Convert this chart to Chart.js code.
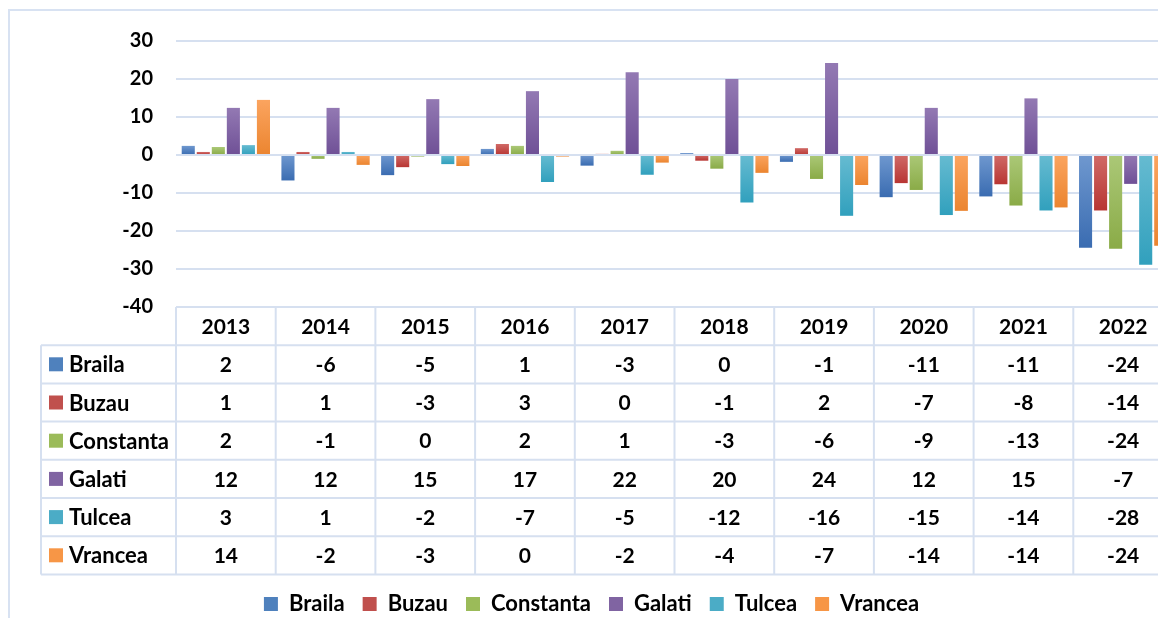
<!DOCTYPE html>
<html>
<head>
<meta charset="utf-8">
<script src="https://cdn.jsdelivr.net/npm/chart.js@4"></script>
<style>
    html, body { margin: 0; padding: 0; background: #fff; overflow: hidden; }
    body { width: 1158px; height: 618px; position: relative; }
    #frame {
        position: absolute; left: 8px; top: 9px;
        width: 1174px; height: 614px;
        border: 2px solid #d8e2f2;
    }
    #chartBox { position: relative; width: 1174px; height: 614px; }
</style>
</head>
<body>
<div id="frame">
    <div id="chartBox"><canvas id="myChart"></canvas></div>
</div>
<script>
// Categories
const years = ['2013', '2014', '2015', '2016', '2017', '2018', '2019', '2020', '2021', '2022'];
const seriesNames = ['Braila', 'Buzau', 'Constanta', 'Galati', 'Tulcea', 'Vrancea'];

// Bar heights
const braila = [2.4, -6.7, -5.3, 1.6, -2.8, 0.5, -1.8, -11.1, -10.9, -24.4];
const buzau = [0.8, 0.8, -3.2, 2.9, 0.3, -1.5, 1.8, -7.4, -7.7, -14.6];
const constanta = [2.1, -1.0, -0.4, 2.4, 1.1, -3.6, -6.3, -9.2, -13.3, -24.7];
const galati = [12.4, 12.4, 14.7, 16.8, 21.8, 20.0, 24.2, 12.4, 14.9, -7.6];
const tulcea = [2.6, 0.8, -2.4, -7.1, -5.2, -12.5, -16.0, -15.8, -14.6, -28.9];
const vrancea = [14.5, -2.6, -2.9, -0.4, -2.0, -4.7, -7.9, -14.7, -13.8, -23.9];

// Values printed in the data table
const brailaTable = ['2', '-6', '-5', '1', '-3', '0', '-1', '-11', '-11', '-24'];
const buzauTable = ['1', '1', '-3', '3', '0', '-1', '2', '-7', '-8', '-14'];
const constantaTable = ['2', '-1', '0', '2', '1', '-3', '-6', '-9', '-13', '-24'];
const galatiTable = ['12', '12', '15', '17', '22', '20', '24', '12', '15', '-7'];
const tulceaTable = ['3', '1', '-2', '-7', '-5', '-12', '-16', '-15', '-14', '-28'];
const vranceaTable = ['14', '-2', '-3', '0', '-2', '-4', '-7', '-14', '-14', '-24'];

// Y axis ticks
const yMin = -40;
const yMax = 30;
const yStep = 10;

const seriesValues = [braila, buzau, constanta, galati, tulcea, vrancea];
const tableValues = [brailaTable, buzauTable, constantaTable, galatiTable, tulceaTable, vranceaTable];

// Colours (base, gradient top, gradient bottom)
const baseColors = ['#4f81bd', '#c0504d', '#9bbb59', '#8064a2', '#4bacc6', '#f79646'];
const topColors = ['#6f98cf', '#d06a67', '#abc877', '#9379b3', '#66bbd1', '#fba45f'];
const bottomColors = ['#3a6cb1', '#b83633', '#8aab47', '#6f5096', '#31a0bd', '#eb8530'];
const lineColor = '#d6e0f0';
const fontFamily = 'Lato, "Open Sans", sans-serif';
const rowHeight = 38.2;

Chart.defaults.font.family = fontFamily;
Chart.defaults.color = '#000';

// vertical gradient for each bar, light at the top, dark at the bottom
function barFill(i) {
    return function (context) {
        const chart = context.chart;
        if (!chart.chartArea || context.type !== 'data')
            return baseColors[i];
        const y = chart.scales.y;
        const p0 = y.getPixelForValue(0);
        const p1 = y.getPixelForValue(context.raw);
        const top = Math.min(p0, p1);
        const bottom = Math.max(p0, p1);
        if (bottom - top < 1)
            return baseColors[i];
        const g = chart.ctx.createLinearGradient(0, top, 0, bottom);
        g.addColorStop(0, topColors[i]);
        g.addColorStop(1, bottomColors[i]);
        return g;
    };
}

// data table under the plot, columns follow the x scale
const dataTablePlugin = {
    id: 'dataTable',
    afterDraw(chart) {
        const ctx = chart.ctx;
        const x = chart.scales.x;
        const area = chart.chartArea;
        const colW = (area.right - area.left) / years.length;
        const top = area.bottom;
        const labelLeft = 31;
        const bottom = top + rowHeight * (seriesNames.length + 1);

        ctx.save();
        ctx.strokeStyle = lineColor;
        ctx.lineWidth = 2;
        ctx.beginPath();
        // header row top line
        ctx.moveTo(area.left, top);
        ctx.lineTo(area.right, top);
        // row lines
        for (let r = 1; r <= seriesNames.length + 1; r++) {
            ctx.moveTo(labelLeft, top + r * rowHeight);
            ctx.lineTo(area.right, top + r * rowHeight);
        }
        // column lines
        for (let c = 0; c <= years.length; c++) {
            const cx = area.left + c * colW;
            ctx.moveTo(cx, top);
            ctx.lineTo(cx, bottom);
        }
        ctx.moveTo(labelLeft, top + rowHeight);
        ctx.lineTo(labelLeft, bottom);
        ctx.stroke();

        ctx.fillStyle = '#000';
        ctx.textBaseline = 'middle';
        ctx.textAlign = 'center';
        ctx.font = 'bold 21px ' + fontFamily;
        years.forEach((yr, c) => {
            ctx.fillText(yr, x.getPixelForValue(c), top + rowHeight / 2 + 1);
        });

        seriesNames.forEach((name, r) => {
            const cy = top + (r + 1.5) * rowHeight + 1;
            ctx.fillStyle = baseColors[r];
            ctx.fillRect(labelLeft + 8, cy - 8, 14, 14);
            ctx.fillStyle = '#000';
            ctx.textAlign = 'left';
            ctx.font = 'bold 22px ' + fontFamily;
            ctx.fillText(name, labelLeft + 28, cy);
            ctx.textAlign = 'center';
            ctx.font = 'bold 21px ' + fontFamily;
            tableValues[r].forEach((v, c) => {
                ctx.fillText(v, x.getPixelForValue(c), cy);
            });
        });
        ctx.restore();
    }
};

const ctx = document.getElementById('myChart').getContext('2d');
const myChart = new Chart(ctx, {
    type: 'bar',
    data: {
        labels: years,
        datasets: seriesNames.map((name, i) => ({
            label: name,
            data: seriesValues[i],
            backgroundColor: barFill(i),
            borderWidth: 0,
            barPercentage: 0.87,
            categoryPercentage: 0.905
        }))
    },
    options: {
        responsive: true,
        maintainAspectRatio: false,
        animation: false,
        layout: {
            padding: { top: 30, left: 0, right: 11, bottom: 0 }
        },
        scales: {
            x: {
                display: true,
                grid: { display: false },
                border: { display: false },
                ticks: { display: false },
                afterFit: (scale) => { scale.height = 268; }
            },
            y: {
                min: yMin,
                max: yMax,
                ticks: {
                    stepSize: yStep,
                    padding: 0,
                    font: { size: 20, weight: 'bold' },
                    color: '#000'
                },
                grid: {
                    color: lineColor,
                    lineWidth: 2,
                    drawTicks: true,
                    tickLength: 23,
                    tickColor: 'rgba(0,0,0,0)'
                },
                border: { display: false },
                afterFit: (scale) => { scale.width = 166; }
            }
        },
        plugins: {
            legend: {
                position: 'bottom',
                labels: {
                    boxWidth: 14,
                    boxHeight: 14,
                    padding: 18,
                    color: '#000',
                    font: { size: 22, weight: 'bold' },
                    generateLabels: (chart) => seriesNames.map((name, i) => ({
                        text: name,
                        fillStyle: baseColors[i],
                        strokeStyle: baseColors[i],
                        lineWidth: 0,
                        hidden: !chart.isDatasetVisible(i),
                        datasetIndex: i
                    }))
                }
            },
            tooltip: { enabled: false }
        }
    },
    plugins: [dataTablePlugin]
});
</script>
</body>
</html>
